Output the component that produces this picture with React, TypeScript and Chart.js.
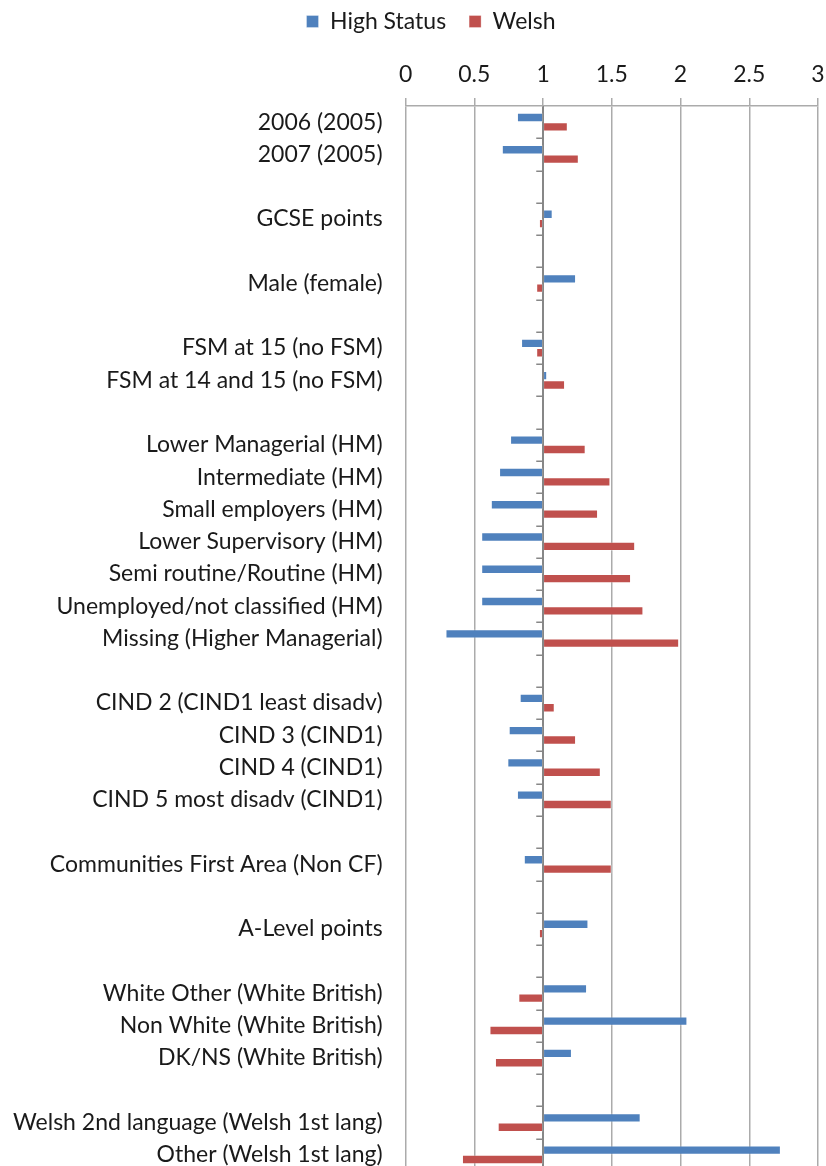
import React, { useEffect, useRef } from 'react';
import { Chart, registerables } from 'chart.js';

Chart.register(...registerables);

const categories: string[] = [
  '2006 (2005)',
  '2007 (2005)',
  '',
  'GCSE points',
  '',
  'Male (female)',
  '',
  'FSM at 15 (no FSM)',
  'FSM at 14 and 15 (no FSM)',
  '',
  'Lower Managerial (HM)',
  'Intermediate (HM)',
  'Small employers (HM)',
  'Lower Supervisory (HM)',
  'Semi routine/Routine (HM)',
  'Unemployed/not classified (HM)',
  'Missing (Higher Managerial)',
  '',
  'CIND 2 (CIND1 least disadv)',
  'CIND 3 (CIND1)',
  'CIND 4 (CIND1)',
  'CIND 5 most disadv (CIND1)',
  '',
  'Communities First Area (Non CF)',
  '',
  'A-Level points',
  '',
  'White Other (White British)',
  'Non White (White British)',
  'DK/NS (White British)',
  '',
  'Welsh 2nd language (Welsh 1st lang)',
  'Other (Welsh 1st lang)',
];

const highStatus: (number | null)[] = [
  0.81, 0.70, null, 1.07, null, 1.24, null, 0.84, 1.03, null,
  0.76, 0.68, 0.62, 0.55, 0.55, 0.55, 0.29, null,
  0.83, 0.75, 0.74, 0.81, null, 0.86, null, 1.33, null,
  1.32, 2.05, 1.21, null, 1.71, 2.73,
];

const welsh: (number | null)[] = [
  1.18, 1.26, null, 0.97, null, 0.95, null, 0.95, 1.16, null,
  1.31, 1.49, 1.40, 1.67, 1.64, 1.73, 1.99, null,
  1.085, 1.24, 1.42, 1.50, null, 1.50, null, 0.97, null,
  0.82, 0.61, 0.65, null, 0.67, 0.41,
];

const seriesNames = ['High Status', 'Welsh'];
const baseValue = 1;
const xMin = 0;
const xMax = 3;
const xStep = 0.5;

const FONT = 'Lato';
const TEXT = '#1a1a1a';
const GRID = '#ABABAB';
const AXIS = '#878787';
const LEGEND_SHIFT = 17;

const baseAxisPlugin = {
  id: 'baseAxisAtOne',
  afterLayout(chart: any) {
    const lg = chart.legend;
    if (lg) {
      lg.left += LEGEND_SHIFT;
      lg.right += LEGEND_SHIFT;
    }
  },
  afterDatasetsDraw(chart: any) {
    const { ctx, chartArea, scales } = chart;
    const xs = scales.x;
    const ys = scales.y;
    const px = Math.round(xs.getPixelForValue(baseValue)) + 0.25;
    ctx.save();
    ctx.strokeStyle = AXIS;
    ctx.lineWidth = 1.5;
    ctx.beginPath();
    ctx.moveTo(px, chartArea.top);
    ctx.lineTo(px, chartArea.bottom);
    const n = ys.getLabels().length;
    for (let i = 1; i <= n; i++) {
      const py = Math.round(ys.getPixelForValue(i - 0.5)) + 0.25;
      ctx.moveTo(px - 7, py);
      ctx.lineTo(px, py);
    }
    ctx.stroke();
    ctx.restore();
  },
};

export default function App() {
  const ref = useRef<HTMLCanvasElement | null>(null);

  useEffect(() => {
    if (!ref.current) return;
    const toFloat = (arr: (number | null)[]) =>
      arr.map((v) => (v == null ? null : [baseValue, v]));

    const chart = new Chart(ref.current, {
      type: 'bar',
      data: {
        labels: categories,
        datasets: [
          {
            label: seriesNames[0],
            data: toFloat(highStatus) as any,
            backgroundColor: '#4F81BD',
            borderColor: 'rgba(255,255,255,0.3)',
            borderWidth: 1,
            borderSkipped: false,
          },
          {
            label: seriesNames[1],
            data: toFloat(welsh) as any,
            backgroundColor: '#C0504D',
            borderColor: 'rgba(255,255,255,0.3)',
            borderWidth: 1,
            borderSkipped: false,
          },
        ],
      },
      plugins: [baseAxisPlugin],
      options: {
        indexAxis: 'y',
        responsive: false,
        animation: false,
        maintainAspectRatio: false,
        layout: { padding: { left: 10, right: 8, top: -13, bottom: 0 } },
        datasets: {
          bar: { categoryPercentage: 0.58, barPercentage: 1 },
        },
        plugins: {
          legend: {
            position: 'top',
            labels: {
              boxWidth: 12,
              boxHeight: 12,
              color: TEXT,
              font: { family: FONT, size: 23 },
              padding: 23,
            },
          },
          tooltip: { enabled: false },
        },
        scales: {
          x: {
            type: 'linear',
            position: 'top',
            min: xMin,
            max: xMax,
            ticks: {
              stepSize: xStep,
              color: TEXT,
              font: { family: FONT, size: 23 },
              padding: 10,
              callback: (v: any) => String(v),
            },
            grid: {
              color: (ctx: any) => (ctx.tick && ctx.tick.value === baseValue ? AXIS : GRID),
              lineWidth: 1.5,
              tickLength: 8,
              tickColor: GRID,
            },
            border: { display: true, color: GRID, width: 1.5 },
            afterFit: (scale: any) => {
              scale.height = 63;
              scale.paddingRight = 0;
              scale.paddingLeft = 0;
            },
          },
          y: {
            type: 'category',
            position: 'left',
            offset: true,
            ticks: {
              color: TEXT,
              font: { family: FONT, size: 23 },
              padding: 23,
              autoSkip: false,
            },
            grid: { display: false, drawTicks: false },
            border: { display: false },
            afterFit: (scale: any) => {
              scale.width = 395.6;
              scale.paddingTop = 0;
              scale.paddingBottom = 0;
            },
          },
        },
      },
    });
    return () => chart.destroy();
  }, []);

  return (
    <div
      style={{
        position: 'fixed',
        top: 0,
        left: 0,
        width: 826,
        height: 1166,
        overflow: 'hidden',
        background: '#fff',
      }}
    >
      <canvas ref={ref} width={826} height={1171} style={{ width: 826, height: 1171, display: 'block' }} />
    </div>
  );
}
